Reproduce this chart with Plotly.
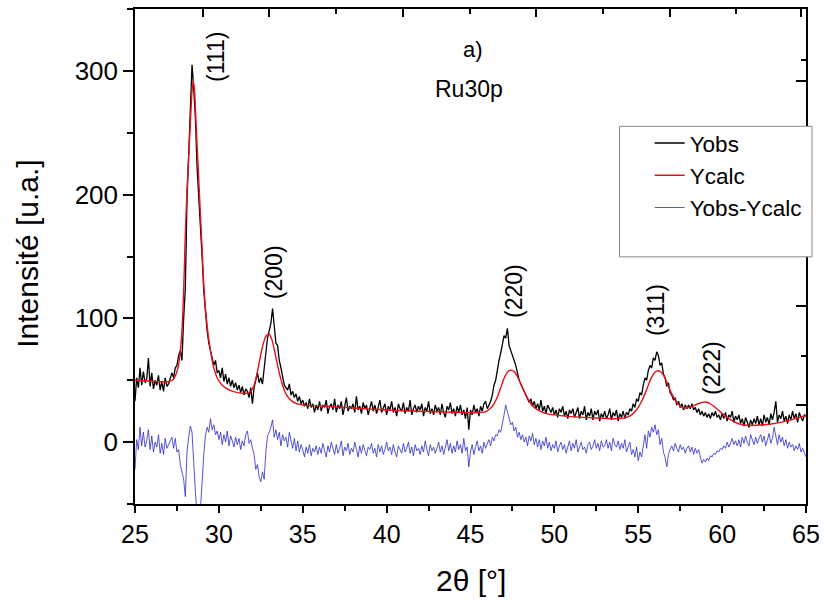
import numpy as np
import plotly.graph_objects as go

# ---------------- data ----------------
two_theta_start = 25.0
two_theta_end = 65.0

# observed intensity, 0.1 deg steps from 25.0 to 65.0 (one row per degree)
y_obs_rows = [
    [33, 52, 44, 60, 46, 57, 48, 51, 68, 45],      # 25
    [56, 43, 50, 46, 54, 42, 49, 41, 52, 45],      # 26
    [47, 51, 56, 52, 60, 62, 70, 74, 66, 100],     # 27
    [124, 196, 238, 272, 305, 286, 262, 222, 200, 172],  # 28
    [150, 122, 102, 90, 80, 75, 68, 62, 66, 56],   # 29
    [58, 52, 60, 49, 55, 47, 52, 45, 50, 44],      # 30
    [48, 42, 46, 40, 45, 38, 43, 41, 36, 44],      # 31
    [31, 44, 50, 56, 48, 52, 47, 62, 72, 84],      # 32
    [90, 96, 108, 92, 80, 78, 66, 60, 52, 46],     # 33
    [44, 42, 47, 38, 41, 36, 39, 33, 37, 31],      # 34
    [34, 29, 32, 27, 35, 28, 31, 24, 30, 26],      # 35
    [33, 25, 30, 28, 34, 23, 29, 31, 26, 35],      # 36
    [24, 30, 27, 33, 22, 28, 36, 25, 29, 27],      # 37
    [31, 24, 37, 26, 29, 23, 32, 27, 30, 22],      # 38
    [28, 33, 25, 30, 23, 29, 34, 24, 27, 31],      # 39
    [22, 29, 26, 33, 24, 28, 21, 31, 27, 25],      # 40
    [32, 23, 28, 25, 34, 22, 27, 30, 24, 29],      # 41
    [26, 31, 21, 28, 25, 33, 23, 27, 22, 30],      # 42
    [25, 28, 22, 31, 24, 20, 29, 26, 32, 23],      # 43
    [27, 21, 29, 24, 30, 22, 26, 19, 28, 10],      # 44
    [26, 22, 30, 24, 27, 21, 29, 25, 31, 33],      # 45
    [27, 30, 33, 38, 46, 50, 60, 66, 72, 78],      # 46
    [86, 84, 92, 78, 74, 70, 66, 62, 56, 50],      # 47
    [47, 44, 40, 38, 34, 32, 35, 29, 33, 27],      # 48
    [31, 26, 34, 25, 29, 23, 30, 27, 24, 28],      # 49
    [22, 26, 20, 27, 24, 29, 21, 25, 19, 26],      # 50
    [23, 27, 20, 24, 28, 19, 25, 22, 29, 18],      # 51
    [24, 21, 27, 18, 25, 22, 26, 17, 23, 20],      # 52
    [25, 19, 22, 27, 18, 24, 21, 26, 17, 23],      # 53
    [20, 25, 19, 24, 22, 27, 25, 31, 28, 35],      # 54
    [33, 40, 38, 46, 52, 50, 58, 62, 60, 68],      # 55
    [66, 73, 70, 62, 64, 55, 52, 45, 48, 40],      # 56
    [38, 34, 36, 30, 33, 28, 31, 26, 30, 27],      # 57
    [30, 27, 31, 26, 28, 24, 27, 22, 25, 21],      # 58
    [24, 20, 23, 19, 24, 21, 25, 20, 22, 18],      # 59
    [23, 19, 24, 17, 22, 20, 25, 16, 21, 18],      # 60
    [22, 15, 19, 13, 20, 16, 12, 18, 14, 19],      # 61
    [15, 21, 14, 19, 13, 22, 16, 20, 14, 23],      # 62
    [18, 24, 33, 16, 22, 19, 25, 17, 21, 15],      # 63
    [22, 18, 25, 19, 23, 16, 24, 20, 17, 22],      # 64
    [21],                                          # 65
]

# difference curve, same 0.1 deg grid
y_diff_rows = [
    [-22, 2, -6, 12, -3, 8, -4, 1, 10, -6],        # 25
    [5, -8, 0, -4, 6, -9, -1, -10, 3, -5],         # 26
    [-2, 1, 4, -5, 3, -8, -6, -18, -25, -30],      # 27
    [-44, -8, 4, 13, 8, -20, -40, -60, -65, -55],  # 28
    [-30, -10, 5, 12, 8, 19, 10, 14, 6, 9],        # 29
    [2, 8, -2, 6, 0, 9, -3, 5, 1, -4],             # 30
    [4, -2, 3, -6, 1, -3, 6, 9, -1, 2],            # 31
    [-5, -10, -22, -18, -28, -32, -24, -30, -8, 5],  # 32
    [8, 12, 18, 4, 10, 2, 8, -3, 6, 1],            # 33
    [4, -4, 8, 0, -5, 3, -7, 1, -8, -2],           # 34
    [-6, -12, -4, -9, -2, -11, -5, -8, -3, -10],   # 35
    [-4, -9, -1, -7, -12, -3, -8, 0, -6, -10],     # 36
    [-2, -9, -5, 1, -11, -4, -7, -1, -10, -5],     # 37
    [-8, 0, -6, -12, -3, -9, -2, -7, -11, -4],     # 38
    [-6, -1, -9, -5, -12, -2, -8, -3, -10, -6],    # 39
    [0, -7, -4, -10, -2, -8, -12, -3, -6, -9],     # 40
    [-1, -8, -5, 0, -9, -4, -11, -2, -7, -5],      # 41
    [-10, -3, -8, 1, -6, -11, -2, -7, -4, -9],     # 42
    [-5, 0, -8, -3, -10, -4, 2, -7, -1, -9],       # 43
    [-3, -8, 1, -6, -2, -9, 3, -7, -4, -20],       # 44
    [-8, -2, -10, -4, 1, -7, -3, -9, 0, -5],       # 45
    [-1, 2, -3, 4, 1, 6, 5, 10, 8, 14],            # 46
    [22, 30, 24, 18, 14, 16, 9, 12, 4, 8],         # 47
    [2, 6, 0, 4, -3, 5, 1, 7, -2, 3],              # 48
    [-4, 2, -6, 1, -3, 4, -5, 0, -7, -2],          # 49
    [-5, 1, -8, -3, 0, -6, -2, -9, -4, 1],         # 50
    [-7, -1, -5, 2, -8, -3, 0, -6, -4, -9],        # 51
    [-2, 0, -6, -3, 2, -5, -1, -7, 1, -4],         # 52
    [-3, 2, -5, 0, -7, 3, -2, -4, 1, -6],          # 53
    [-1, -5, 2, -8, -3, 0, -10, -6, -12, -4],      # 54
    [-15, -8, -12, -3, 6, -5, 9, 4, 12, 8],        # 55
    [14, 6, 10, -2, 3, -8, -12, -20, -10, -6],     # 56
    [-3, -7, -1, -5, -8, -2, -6, -4, -9, -5],      # 57
    [-3, -8, -4, -10, -5, -9, -6, -12, -17, -14],  # 58
    [-16, -13, -15, -11, -12, -9, -10, -7, -8, -5],  # 59
    [-6, -3, -5, 0, -4, -1, 3, -2, 1, -3],         # 60
    [2, -4, 4, -1, 5, 0, -3, 6, 1, -2],            # 61
    [4, -1, 3, 6, 0, 5, -3, 2, 7, -1],             # 62
    [3, 12, 5, -2, 6, 0, 4, -3, 2, -5],            # 63
    [0, -4, -2, -7, -3, -6, -1, -8, -5, -9],       # 64
    [-12],                                         # 65
]

# calculated profile (smooth), sampled where read
calc_x = [25.0, 25.5, 26.0, 26.5, 27.0, 27.2, 27.3, 27.4, 27.5, 27.6, 27.7, 27.8, 27.9,
          28.0, 28.1, 28.2, 28.3, 28.4, 28.47, 28.55, 28.6, 28.7, 28.8, 28.9, 29.0, 29.1,
          29.2, 29.3, 29.4, 29.5, 29.6, 29.7, 29.8, 29.9, 30.0, 30.2, 30.4, 30.6, 30.8,
          31.0, 31.2, 31.4, 31.6, 31.8, 31.9, 32.0, 32.1, 32.2, 32.3, 32.4, 32.5, 32.6,
          32.7, 32.8, 32.9, 33.0, 33.1, 33.2, 33.3, 33.4, 33.5, 33.6, 33.7, 33.8, 33.9,
          34.0, 34.2, 34.4, 34.6, 34.8, 35.0, 35.5, 36.0, 37.0, 38.0, 39.0, 40.0, 41.0,
          42.0, 43.0, 44.0, 45.0, 45.5, 45.8, 46.0, 46.2, 46.4, 46.6, 46.8, 47.0, 47.2,
          47.4, 47.6, 47.8, 48.0, 48.2, 48.4, 48.6, 48.8, 49.0, 49.3, 49.6, 50.0, 50.5,
          51.0, 52.0, 53.0, 53.6, 54.0, 54.3, 54.6, 54.8, 55.0, 55.2, 55.4, 55.6, 55.8,
          56.0, 56.2, 56.4, 56.6, 56.8, 57.0, 57.2, 57.4, 57.6, 57.8, 58.0, 58.3, 58.6,
          58.9, 59.1, 59.3, 59.5, 59.8, 60.1, 60.4, 60.7, 61.0, 61.3, 61.6, 62.0, 62.5,
          63.0, 63.5, 64.0, 64.5, 65.0]
calc_y = [50.0, 49.6, 49.2, 48.8, 48.8, 49.8, 51, 53.5, 57, 63, 73, 90, 122,
          168, 203, 230, 258, 284, 292, 284, 270, 240, 212, 184, 156, 127,
          108, 94, 83, 74, 66, 60, 55.5, 52, 49.5, 46, 43.8, 42.3, 41.2,
          40.4, 39.8, 39.4, 39.3, 40, 41, 43, 46, 51, 57, 64, 71, 77,
          82, 85.5, 87, 87.5, 85, 81, 75, 68.5, 62, 56, 50.5, 46, 42,
          39, 35, 32.8, 31.4, 30.5, 30, 29.5, 29.1, 28.5, 27.6, 26.7, 26, 25.4,
          24.9, 24.5, 24.1, 23.8, 23.8, 24.2, 25.3, 27.5, 31, 36.5, 44, 51.5, 56.5,
          58.2, 57, 53, 47, 41, 35.5, 31, 28, 26, 24, 22.8, 22, 21.2,
          20.6, 19.8, 19.2, 18.9, 19.2, 20, 22, 24.5, 28, 33, 39, 46, 52.5,
          56.5, 57.7, 56, 51.5, 45, 39, 34, 30.5, 28.3, 27.6, 28, 29.5, 31.2,
          32.3, 32.2, 31, 29, 25.5, 22, 19, 16.5, 14.8, 13.8, 13.4, 13.6, 14.1,
          14.8, 16, 17.6, 19.5, 21.5]

peak_labels = ["(111)", "(200)", "(220)", "(311)", "(222)"]
peak_label_x = [29.87, 33.26, 47.58, 56.02, 59.40]
peak_label_y = [311, 137, 122, 107, 60]

x_ticks = [25, 30, 35, 40, 45, 50, 55, 60, 65]
y_ticks = [0, 100, 200, 300]
top_major_ticks = [29.04, 33.0, 41.0, 48.9, 56.9, 64.7]
top_minor_ticks = [37.0, 44.96, 52.9, 60.8]
right_major_ticks = [292, 110, 30]
right_minor_ticks = [309, 70]

series_names = ["Yobs", "Ycalc", "Yobs-Ycalc"]

# ---------------- build ----------------
y_obs = [v for row in y_obs_rows for v in row]
y_diff = [v for row in y_diff_rows for v in row]
x_grid = np.round(np.linspace(two_theta_start, two_theta_end, len(y_obs)), 2)

FONT = "Liberation Sans, Arial, sans-serif"

fig = go.Figure()
fig.add_trace(go.Scatter(x=x_grid, y=y_obs, mode="lines", name=series_names[0],
                         line=dict(color="#000000", width=1.3)))
fig.add_trace(go.Scatter(x=calc_x, y=calc_y, mode="lines", name=series_names[1],
                         line=dict(color="#e8101a", width=1.4, shape="spline", smoothing=0.6)))
fig.add_trace(go.Scatter(x=x_grid, y=y_diff, mode="lines", name=series_names[2],
                         line=dict(color="#2b2bd0", width=0.8)))

annotations = []
for lab, lx, ly in zip(peak_labels, peak_label_x, peak_label_y):
    annotations.append(dict(x=lx, y=ly, xref="x", yref="y", text=lab, showarrow=False,
                            textangle=-90, font=dict(family=FONT, size=23, color="black")))
annotations.append(dict(x=45.14, y=317, xref="x", yref="y", text="a)", showarrow=False,
                        font=dict(family=FONT, size=22, color="black")))
annotations.append(dict(x=44.9, y=285.5, xref="x", yref="y", text="Ru30p", showarrow=False,
                        font=dict(family=FONT, size=23, color="black")))
annotations.append(dict(x=-0.1605, y=0.506, xref="paper", yref="paper", text="Intensité [u.a.]",
                        showarrow=False, textangle=-90, xanchor="center", yanchor="middle",
                        font=dict(family=FONT, size=30, color="black")))
annotations.append(dict(x=0.5, y=-0.155, xref="paper", yref="paper", text="2θ [°]",
                        showarrow=False, xanchor="center", yanchor="middle",
                        font=dict(family=FONT, size=30, color="black")))

fig.update_layout(
    width=827, height=606,
    margin=dict(l=135, r=19, t=7, b=102),
    paper_bgcolor="white", plot_bgcolor="white",
    font=dict(family=FONT, color="black"),
    showlegend=True,
    legend=dict(x=0.767, y=0.772, xanchor="left", yanchor="top",
                bgcolor="rgba(0,0,0,0)", borderwidth=0,
                font=dict(family=FONT, size=22.5, color="black"),
                tracegroupgap=0),
    annotations=annotations,
    shapes=[dict(type="rect", xref="paper", yref="paper",
                 x0=0.7221, x1=1.0089, y0=0.4993, y1=0.763,
                 fillcolor="white", line=dict(color="#888888", width=1), layer="above")],
    xaxis=dict(range=[25, 65], tickmode="array", tickvals=x_ticks,
               ticks="outside", ticklen=7, tickwidth=1.5, tickcolor="black",
               minor=dict(dtick=2.5, tick0=25, ticks="outside", ticklen=5, tickwidth=1.5,
                          tickcolor="black"),
               showline=True, linecolor="black", linewidth=1.5, mirror=True,
               showgrid=False, zeroline=False,
               tickfont=dict(family=FONT, size=25, color="black"), ticklabelstandoff=0),
    yaxis=dict(range=[-50, 350], tickmode="array", tickvals=y_ticks,
               ticks="outside", ticklen=10, tickwidth=1.5, tickcolor="black",
               minor=dict(dtick=50, tick0=0, ticks="outside", ticklen=6, tickwidth=1.5,
                          tickcolor="black"),
               showline=True, linecolor="black", linewidth=1.5, mirror=True,
               showgrid=False, zeroline=False,
               tickfont=dict(family=FONT, size=26, color="black"), ticklabelstandoff=0),
    xaxis2=dict(range=[25, 65], overlaying="x", side="top", tickmode="array",
                tickvals=top_major_ticks, ticks="inside", ticklen=8, tickwidth=1.5,
                tickcolor="black", showticklabels=False, showline=False, showgrid=False,
                zeroline=False,
                minor=dict(tickmode="array", tickvals=top_minor_ticks, ticks="inside",
                           ticklen=5, tickwidth=1.5, tickcolor="black")),
    yaxis2=dict(range=[-50, 350], overlaying="y", side="right", tickmode="array",
                tickvals=right_major_ticks, ticks="inside", ticklen=10, tickwidth=1.5,
                tickcolor="black", showticklabels=False, showline=False, showgrid=False,
                zeroline=False,
                minor=dict(tickmode="array", tickvals=right_minor_ticks, ticks="inside",
                           ticklen=5, tickwidth=1.5, tickcolor="black")),
)
# invisible trace to activate the secondary (tick-only) axes
fig.add_trace(go.Scatter(x=[25], y=[-50], xaxis="x2", yaxis="y2", mode="markers",
                         marker=dict(opacity=0), showlegend=False, hoverinfo="skip"))

# remove the browser's default 8px body margin so the figure sits at the page origin
fig.write_html("out.html",
               config={"displayModeBar": False},
               post_script="document.body.style.margin='0px';document.body.style.overflow='hidden';")
